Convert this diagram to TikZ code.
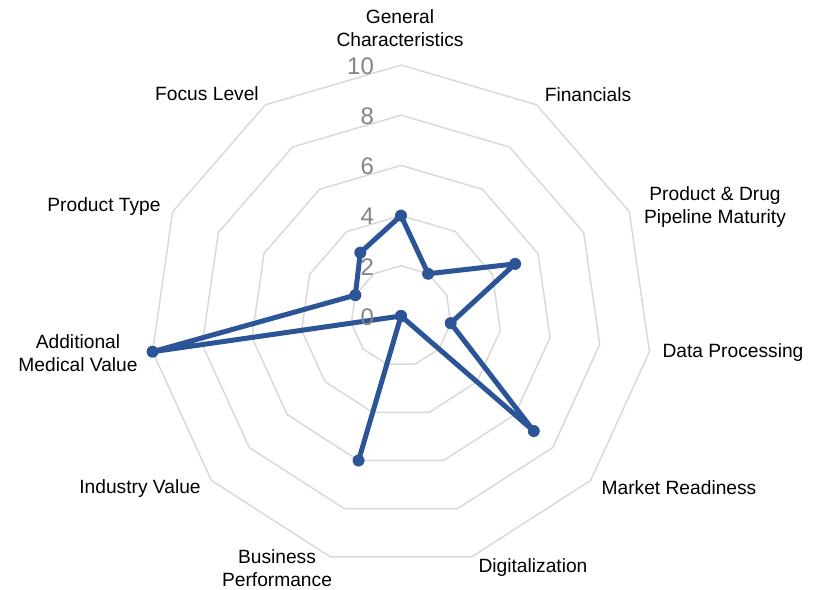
\documentclass[tikz,border=0pt]{standalone}
\usepackage{fontspec}
\setmainfont{Liberation Sans}
\definecolor{serie}{HTML}{2B5597}
\definecolor{rejilla}{HTML}{D9D9D9}
\definecolor{escala}{HTML}{858585}
\tikzset{
    rejilla/.style={draw=rejilla, line width=0.75pt, line join=round},
    serie/.style={draw=serie, line width=2.5pt, line join=round},
    punto/.style={circle, fill=serie, inner sep=0pt, minimum size=6pt},
    etiqueta/.style={font=\fontsize{9.6}{11.8}\selectfont, align=center},
    escala/.style={font=\fontsize{12}{14}\selectfont, text=escala, anchor=east},
}
\begin{document}
\begin{tikzpicture}[x=0.5pt, y=-0.5pt]
    \useasboundingbox (0,0) rectangle (819,589);

    % ~~~~ Rejilla ~~~~ %
    \begin{scope}[shift={(401,316)}]
        \foreach \r in {50.2,100.4,150.6,200.8,251}
            \draw[rejilla] (-90:\r) \foreach \k in {1,...,10} { -- ({-90+\k*360/11}:\r) } -- cycle;

        % ~~~~ Datos ~~~~ %
        \foreach \v [count=\k from 0] in {4,2,5,2,7,0,6,0,10,2,3}
            \coordinate (c\k) at ({-90+\k*360/11}:{25.1*\v});
        \draw[serie] (c0) -- (c1) -- (c2) -- (c3) -- (c4) -- (c5) -- (c6)
            -- (c7) -- (c8) -- (c9) -- (c10) -- cycle;
        \foreach \k in {0,...,10}
            \node[punto] (p\k) at (c\k) {};
    \end{scope}

    % ~~~~ Escala ~~~~ %
    \foreach \v in {0,2,...,10}
        \node[escala] (e\v) at (381, {317-25.1*\v}) {\v};

    % ~~~~ Ejes ~~~~ %
    \node[etiqueta] (gen) at (400,28) {General\\Characteristics};
    \node[etiqueta] (fin) at (588,95) {Financials};
    \node[etiqueta] (pdp) at (715,207) {Product \& Drug\\Pipeline Maturity};
    \node[etiqueta] (dat) at (733,353) {Data Processing};
    \node[etiqueta] (mkt) at (679,488) {Market Readiness};
    \node[etiqueta] (dig) at (533,568) {Digitalization};
    \node[etiqueta] (bus) at (277,568) {Business\\Performance};
    \node[etiqueta] (ind) at (140,489) {Industry Value};
    \node[etiqueta] (amv) at (78,353) {Additional\\Medical Value};
    \node[etiqueta] (pty) at (104,207) {Product Type};
    \node[etiqueta] (foc) at (207,94) {Focus Level};
\end{tikzpicture}
\end{document}
